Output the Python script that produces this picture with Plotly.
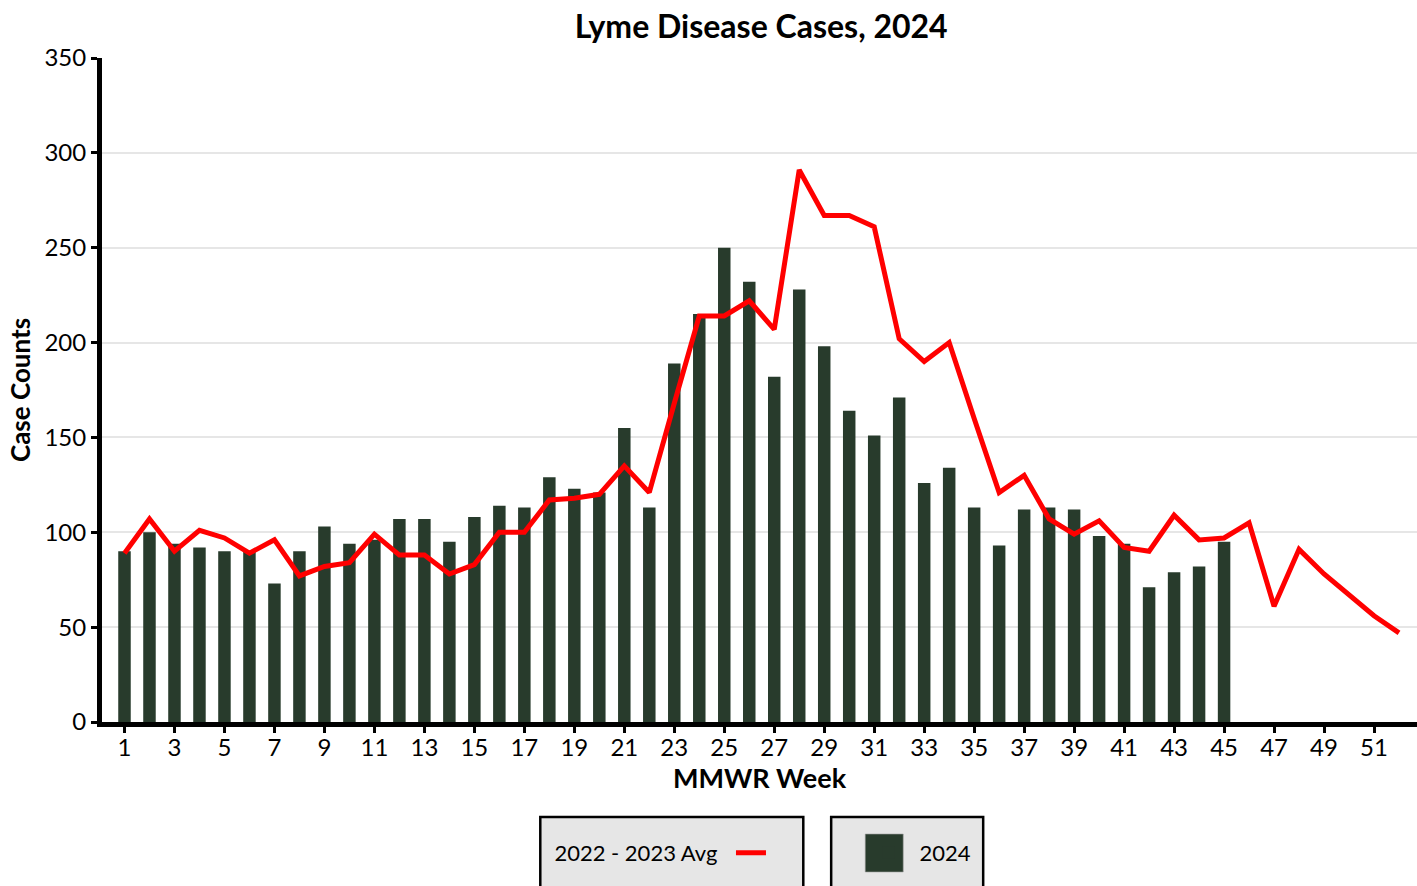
import plotly.graph_objects as go

weeks_avg = list(range(1, 53))
weeks_2024 = list(range(1, 46))

cases_2024 = [90, 100, 94, 92, 90, 90, 73, 90, 103, 94, 96, 107, 107, 95, 108,
              114, 113, 129, 123, 121, 155, 113, 189, 215, 250, 232, 182, 228,
              198, 164, 151, 171, 126, 134, 113, 93, 112, 113, 112, 98, 94, 71,
              79, 82, 95]

avg_2022_2023 = [89, 107, 90, 101, 97, 89, 96, 77, 82, 84, 99, 88, 88, 78, 83,
                 100, 100, 117, 118, 120, 135, 121, 168, 214, 214, 222, 207, 291,
                 267, 267, 261, 202, 190, 200, 160, 121, 130, 107, 99, 106, 92,
                 90, 109, 96, 97, 105, 61, 91, 78, 67, 56, 47]

x_tickvals = list(range(1, 53, 2))
y_tickvals = [0, 50, 100, 150, 200, 250, 300, 350]

BAR_COLOR = "#283B2C"
FONT = "Lato"

fig = go.Figure()
fig.add_trace(go.Bar(
    x=weeks_2024, y=cases_2024, name="\u00a0\u00a02024",
    marker=dict(color=BAR_COLOR, line=dict(width=0)),
    width=0.5, legend="legend2",
))
fig.add_trace(go.Scatter(
    x=weeks_avg, y=avg_2022_2023, name=" ", mode="lines",
    line=dict(color="#FF0000", width=5), legend="legend",
))

shapes = [
    dict(type="rect", xref="paper", yref="paper", x0=0.3333, x1=0.5333, y0=-0.1431, y1=-0.28,
         fillcolor="#E6E6E6", line=dict(color="black", width=2.5), layer="above"),
    dict(type="rect", xref="paper", yref="paper", x0=0.5545, x1=0.6701, y0=-0.1431, y1=-0.28,
         fillcolor="#E6E6E6", line=dict(color="black", width=2.5), layer="above"),
    dict(type="rect", xref="paper", yref="paper", x0=0.5804, x1=0.6093, y0=-0.1687, y1=-0.2259,
         fillcolor=BAR_COLOR, line=dict(color="rgba(160,160,160,0.6)", width=1), layer="above"),
]

fig.update_layout(
    width=1417, height=886,
    margin=dict(l=101.5, r=0, t=58, b=164),
    paper_bgcolor="white", plot_bgcolor="white",
    font=dict(family=FONT, color="black", size=22),
    title=dict(text="<b>Lyme Disease Cases, 2024</b>", x=0.5013, xref="paper",
               y=1 - 27 / 886, yanchor="middle", font=dict(size=32, family=FONT)),
    bargap=0.5,
    showlegend=True,
    legend=dict(orientation="h", x=0.3425, xanchor="left", y=-0.1973, yanchor="middle",
                bgcolor="rgba(0,0,0,0)", borderwidth=0, font=dict(size=22),
                title=dict(text="2022 - 2023 Avg\u00a0", side="left", font=dict(size=22))),
    legend2=dict(orientation="h", x=0.5827, xanchor="left", y=-0.1973, yanchor="middle",
                 bgcolor="rgba(0,0,0,0)", borderwidth=0, font=dict(size=22)),
    shapes=shapes,
    xaxis=dict(
        range=[0.1, 52.72], tickmode="array", tickvals=x_tickvals,
        ticks="outside", ticklen=6, tickwidth=3, tickcolor="black",
        showline=True, linewidth=5, linecolor="black", showgrid=False, zeroline=False,
        tickfont=dict(size=24), ticklabelstandoff=-6,
        title=dict(text="<b>MMWR Week</b>", font=dict(size=27), standoff=5),
    ),
    yaxis=dict(
        range=[0, 350], tickmode="array", tickvals=y_tickvals,
        ticks="outside", ticklen=6, tickwidth=3, tickcolor="black",
        showline=True, linewidth=5, linecolor="black",
        showgrid=True, gridcolor="#E6E6E6", gridwidth=2, zeroline=False,
        tickfont=dict(size=24),
        title=dict(text="<b>Case Counts</b>", font=dict(size=26), standoff=8),
    ),
)

fig.write_html("out.html", config={"displayModeBar": False},
               post_script="document.body.style.margin='0';document.body.style.overflow='hidden';")
